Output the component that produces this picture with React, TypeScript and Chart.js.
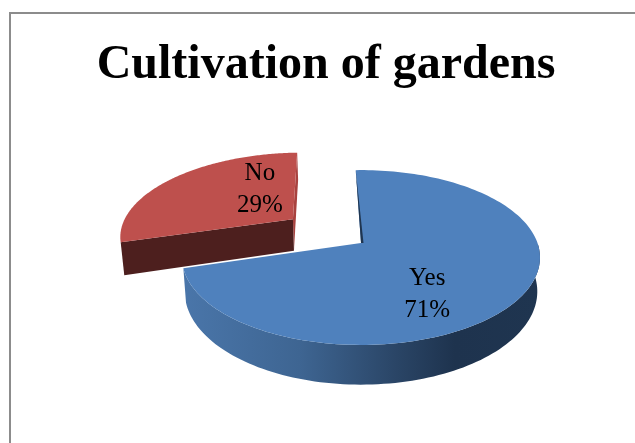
import React, { useEffect, useRef } from "react";
import { Chart, ArcElement, PieController, Title } from "chart.js";

const categories = ["Yes", "No"];
const shares = [71, 29];
const faceColors = ["#4F81BD", "#BE504D"];
const titleText = "Cultivation of gardens";

// perspective of the pie's disc on the page
const VIEW = { cx: 361, cy: 243, radius: 176.5, squash: 0.4816, tilt: 0.166, depth: 33, shrink: 0.985 };
const ROTATION = -2;
const EXPLODE = 88;

type P = { x: number; y: number };

function project(dx: number, dy: number): P {
  const w = 1 - (VIEW.tilt * dy) / VIEW.radius;
  return { x: VIEW.cx + dx / w, y: VIEW.cy + (VIEW.squash * dy) / w };
}
function wallHeight(p: P): number {
  return VIEW.depth * (1 + ((p.y - VIEW.cy) / 100) * 0.2);
}
function lower(p: P): P {
  return { x: VIEW.cx + (p.x - VIEW.cx) * VIEW.shrink, y: p.y + wallHeight(p) };
}
function tracePoly(ctx: CanvasRenderingContext2D, pts: P[]) {
  ctx.beginPath();
  pts.forEach((p, i) => (i ? ctx.lineTo(p.x, p.y) : ctx.moveTo(p.x, p.y)));
  ctx.closePath();
}

class Arc3D extends ArcElement {
  static id = "arc3d";
  geometry() {
    const { startAngle, endAngle } = (this as any).getProps(["startAngle", "endAngle"]);
    const off = (this as any).options.offset || 0;
    const mid = (startAngle + endAngle) / 2;
    const ox = Math.cos(mid) * off;
    const oy = Math.sin(mid) * off;
    const rim: P[] = [];
    const steps = 160;
    for (let i = 0; i <= steps; i++) {
      const a = startAngle + ((endAngle - startAngle) * i) / steps;
      rim.push(project(ox + Math.cos(a) * VIEW.radius, oy + Math.sin(a) * VIEW.radius));
    }
    return { apex: project(ox, oy), rim, ox, oy, mid };
  }
  draw(ctx: CanvasRenderingContext2D) {
    const { apex, rim } = this.geometry();
    const o = (this as any).options;
    const wall = o.borderColor as string;
    const yes = o.backgroundColor === faceColors[0];
    ctx.save();
    // outer wall: only the part of the rim that faces the viewer
    const front = rim.filter((p: P) => p.y > VIEW.cy);
    if (front.length > 1) {
      const grad = ctx.createLinearGradient(VIEW.cx - 180, 0, VIEW.cx + 180, 0);
      grad.addColorStop(0, "#4A76AA");
      grad.addColorStop(0.33, "#3E6592");
      grad.addColorStop(0.6, "#2A4566");
      grad.addColorStop(0.76, "#1E334E");
      grad.addColorStop(1, "#1F3550");
      ctx.fillStyle = grad;
      tracePoly(ctx, [...front, ...front.map(lower).reverse()]);
      ctx.fill();
    }
    // cut faces (only the exploded slice shows them)
    const first = rim[0];
    const last = rim[rim.length - 1];
    if (!yes) {
      ctx.fillStyle = "#A8423F";
      tracePoly(ctx, [last, apex, lower(apex), lower(last)]);
      ctx.fill();
      ctx.fillStyle = wall;
      tracePoly(ctx, [first, apex, lower(apex), lower(first)]);
      ctx.fill();
    }
    // top face
    ctx.fillStyle = o.backgroundColor;
    tracePoly(ctx, [apex, ...rim]);
    ctx.fill();
    // thin dark sliver hugging the starting edge
    if (yes) {
      ctx.fillStyle = "#1F3550";
      tracePoly(ctx, [first, apex, { x: apex.x + 2.5, y: apex.y }]);
      ctx.fill();
    }
    ctx.restore();
  }
}

class Pie3D extends PieController {
  static id = "pie3d";
  static defaults = { dataElementType: "arc3d" };
}

const framePlugin = {
  id: "frame",
  beforeDraw(chart: any) {
    const c = chart.ctx;
    c.save();
    c.fillStyle = "#fff";
    c.fillRect(0, 0, chart.width, chart.height);
    c.strokeStyle = "#8C8C8C";
    c.lineWidth = 2;
    c.strokeRect(10, 13, chart.width + 40, chart.height + 40);
    c.restore();
  },
};

const NUDGE = [
  { x: -25, y: 20 },
  { x: 41, y: -4 },
];
const labelPlugin = {
  id: "sliceLabels",
  afterDatasetsDraw(chart: any) {
    const c = chart.ctx;
    const ds = chart.data.datasets[0];
    const total = ds.data.reduce((a: number, b: number) => a + b, 0);
    c.save();
    c.fillStyle = "#000";
    c.font = '25px "Liberation Serif"';
    c.textAlign = "center";
    c.textBaseline = "middle";
    chart.getDatasetMeta(0).data.forEach((arc: any, i: number) => {
      const g = arc.geometry();
      const p = project(
        g.ox + Math.cos(g.mid) * VIEW.radius * 0.6,
        g.oy + Math.sin(g.mid) * VIEW.radius * 0.6
      );
      const x = p.x + NUDGE[i].x;
      const y = p.y + NUDGE[i].y;
      c.fillText(chart.data.labels[i], x, y - 16);
      c.fillText(Math.round((ds.data[i] / total) * 100) + "%", x, y + 16);
    });
    c.restore();
  },
};

Chart.register(ArcElement, Arc3D, PieController, Pie3D, Title);

export default function App() {
  const ref = useRef<HTMLCanvasElement>(null);
  useEffect(() => {
    document.body.style.margin = "0";
    const chart = new Chart(ref.current as HTMLCanvasElement, {
      type: "pie3d" as any,
      data: {
        labels: categories,
        datasets: [
          {
            data: shares,
            backgroundColor: faceColors,
            borderColor: ["#1F3550", "#4D1F1E"],
            borderWidth: 0,
            offset: [0, EXPLODE],
            radius: VIEW.radius,
            clip: false,
          } as any,
        ],
      },
      options: {
        responsive: false,
        animation: false,
        rotation: ROTATION,
        layout: { padding: { left: 17, top: 6 } },
        plugins: {
          legend: { display: false },
          tooltip: { enabled: false },
          title: {
            display: true,
            text: titleText,
            color: "#000",
            font: { family: '"Liberation Serif"', size: 48, weight: "bold" },
            padding: { top: 31, bottom: 20 },
          },
        },
      } as any,
      plugins: [framePlugin, labelPlugin],
    });
    return () => chart.destroy();
  }, []);
  return (
    <canvas ref={ref} width={635} height={443} style={{ display: "block", width: 635, height: 443 }} />
  );
}
